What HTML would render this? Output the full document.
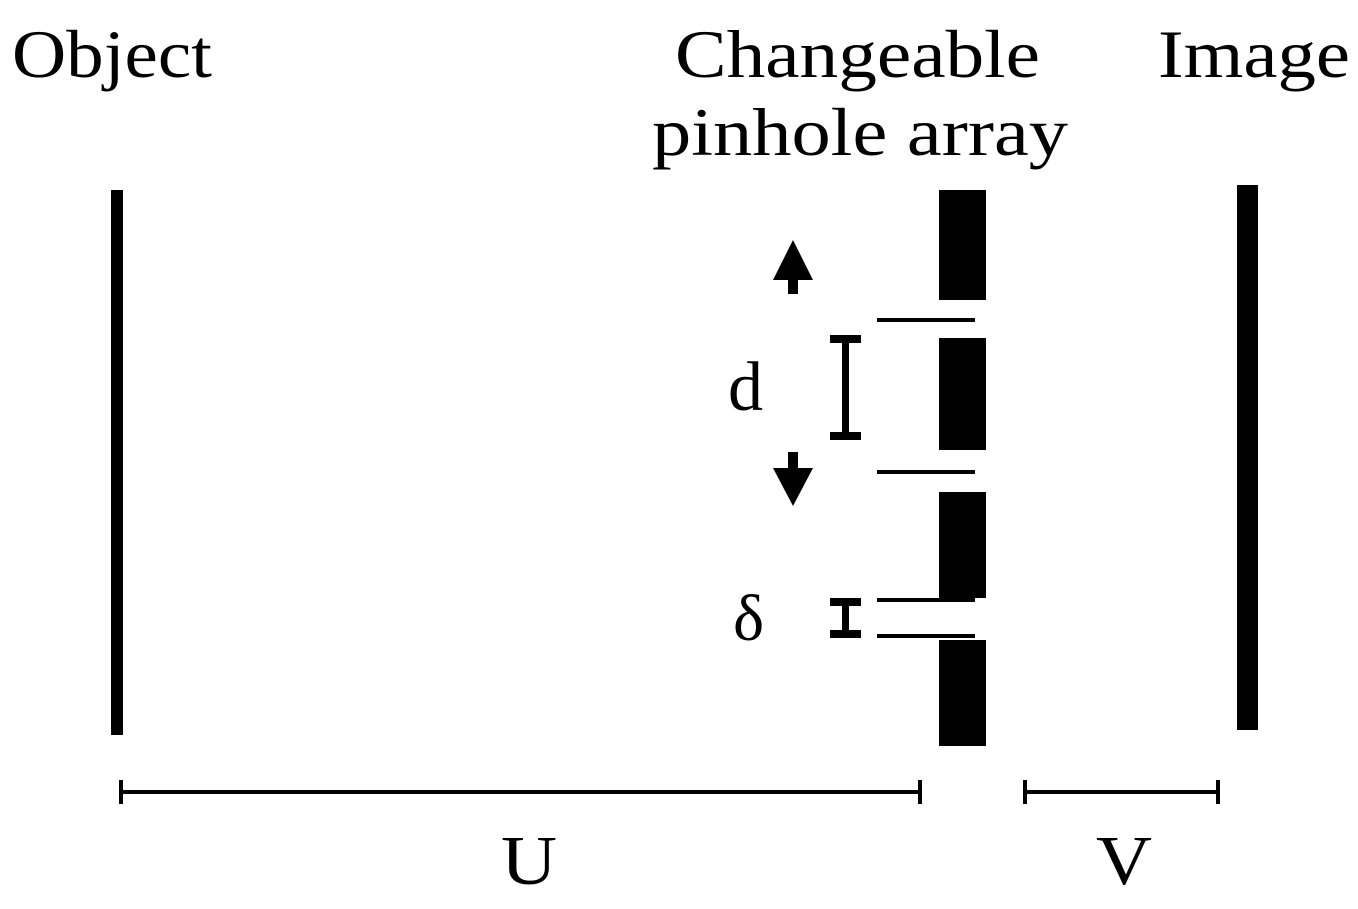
<!DOCTYPE html>
<html><head><meta charset="utf-8"><style>html,body{margin:0;padding:0;background:#fff}svg{display:block}text{font-family:"Liberation Serif",serif;fill:#000}</style></head>
<body>
<svg width="1358" height="909" viewBox="0 0 1358 909">
<text x="12" y="77" font-size="68" textLength="200" lengthAdjust="spacingAndGlyphs">Object</text>
<text x="675" y="77" font-size="68" textLength="365" lengthAdjust="spacingAndGlyphs">Changeable</text>
<text x="652" y="155" font-size="68" textLength="416" lengthAdjust="spacingAndGlyphs">pinhole array</text>
<text x="1158" y="77" font-size="68" textLength="192" lengthAdjust="spacingAndGlyphs">Image</text>
<rect x="111" y="190" width="12" height="545"/>
<rect x="1237" y="185" width="21" height="545"/>
<g>
<rect x="939" y="190" width="47" height="110"/>
<rect x="939" y="338" width="47" height="112"/>
<rect x="939" y="492" width="47" height="106"/>
<rect x="939" y="640" width="47" height="106"/>
</g>
<g stroke="#000" stroke-width="4">
<line x1="877" y1="320" x2="975" y2="320"/>
<line x1="877" y1="472" x2="975" y2="472"/>
<line x1="877" y1="600" x2="975" y2="600"/>
<line x1="877" y1="636" x2="975" y2="636"/>
</g>
<g>
<rect x="842" y="337" width="7" height="103"/><rect x="830" y="335" width="31" height="8"/><rect x="830" y="432" width="31" height="8"/>
</g>
<g>
<rect x="842" y="600" width="7" height="36"/><rect x="830" y="598" width="31" height="8"/><rect x="830" y="630" width="31" height="8"/>
</g>
<g><polygon points="793,240 813,280 773,280"/><rect x="788" y="270" width="10" height="24"/></g>
<g><polygon points="793,506 813,468 773,468"/><rect x="788" y="452" width="10" height="24"/></g>
<text x="728" y="410" font-size="70">d</text>
<text x="733" y="640" font-size="66">δ</text>
<g stroke="#000" stroke-width="4">
<line x1="121" y1="792" x2="920" y2="792"/><line x1="121" y1="780" x2="121" y2="804"/><line x1="920" y1="780" x2="920" y2="804"/>
</g>
<g stroke="#000" stroke-width="4">
<line x1="1025" y1="792" x2="1218" y2="792"/><line x1="1025" y1="780" x2="1025" y2="804"/><line x1="1218" y1="780" x2="1218" y2="804"/>
</g>
<text x="501" y="884" font-size="70" textLength="56" lengthAdjust="spacingAndGlyphs">U</text>
<text x="1096" y="884" font-size="70" textLength="56" lengthAdjust="spacingAndGlyphs">V</text>
</svg>
</body></html>
